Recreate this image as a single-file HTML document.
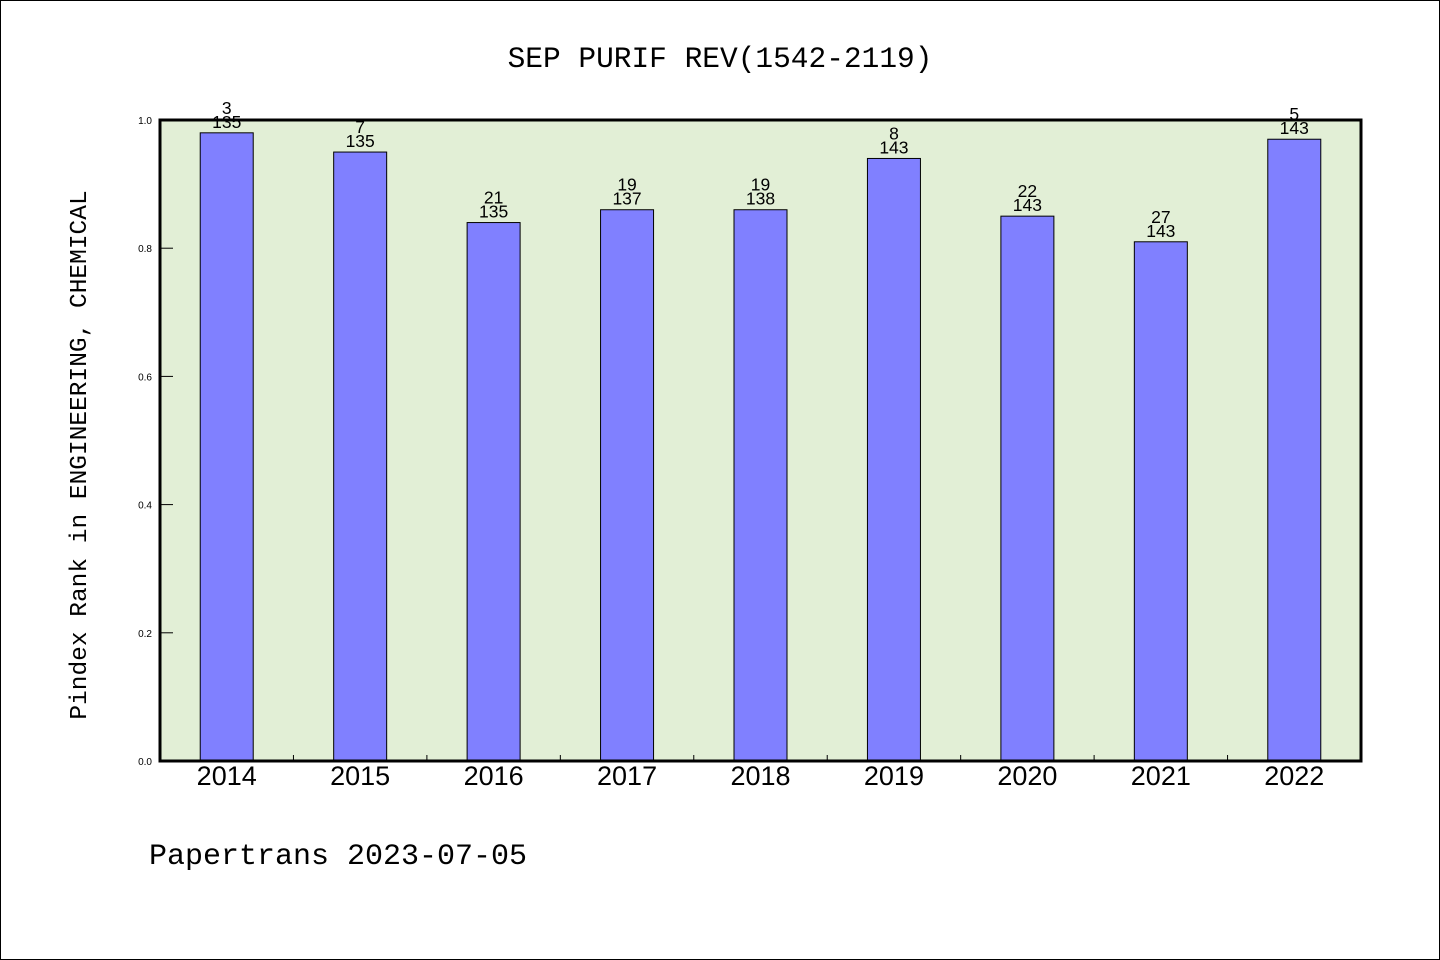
<!DOCTYPE html>
<html><head><meta charset="utf-8"><style>
body{margin:0;background:#fff}
svg{display:block}
text{font-family:"Liberation Sans","WenQuanYi Zen Hei",sans-serif;fill:#000}
.mono{font-family:"Liberation Mono","WenQuanYi Zen Hei",monospace}
</style></head><body>
<svg id="chart" width="1440" height="960" xmlns="http://www.w3.org/2000/svg">
<rect x="0.5" y="0.5" width="1439" height="959" fill="#fff" stroke="#000"/>
<text class="mono" x="720" y="67" font-size="29.5" text-anchor="middle">SEP PURIF REV(1542-2119)</text>
<rect x="160" y="120" width="1201" height="641" fill="#e2efd6"/>
<g id="bars"></g>
<g id="ticks"></g>
<rect x="160" y="120" width="1201" height="641" fill="none" stroke="#000" stroke-width="3"/>
<text class="mono" transform="translate(86,455) rotate(-90)" font-size="24.5" text-anchor="middle">Pindex Rank in ENGINEERING, CHEMICAL</text>
<text class="mono" x="149" y="864" font-size="30">Papertrans 2023-07-05</text>
</svg>
<script>
const categories=["2014","2015","2016","2017","2018","2019","2020","2021","2022"];
const values=[0.98,0.95,0.84,0.86,0.86,0.94,0.85,0.81,0.97];
const ranks=["3","7","21","19","19","8","22","27","5"];
const totals=["135","135","135","137","138","143","143","143","143"];
const yTicks=[0,0.2,0.4,0.6,0.8,1.0];
const yTickLabels=["0.0","0.2","0.4","0.6","0.8","1.0"];
const NS="http://www.w3.org/2000/svg";
const X0=160,W=1201,Y0=761,H=641;
const band=W/categories.length;
const xc=i=>X0+band*(i+0.5);
const y=v=>Y0-v*H;
function mk(tag,attrs,parent){const e=document.createElementNS(NS,tag);for(const k in attrs)e.setAttribute(k,attrs[k]);parent.appendChild(e);return e;}
const bars=document.getElementById('bars'),ticks=document.getElementById('ticks');
categories.forEach((c,i)=>{
  const r=mk('rect',{x:xc(i)-26.5,y:y(values[i]),width:53,height:Y0-y(values[i]),fill:'#8080ff',stroke:'#000','stroke-width':1},bars);
  
  
  const t1=mk('text',{x:xc(i),y:y(values[i])-19,'font-size':17.5,'text-anchor':'middle'},bars);t1.textContent=ranks[i];
  
  
  const t2=mk('text',{x:xc(i),y:y(values[i])-5,'font-size':17.5,'text-anchor':'middle'},bars);t2.textContent=totals[i];
  
  
  const xl=mk('text',{x:xc(i),y:785,'font-size':27,'text-anchor':'middle'},ticks);xl.textContent=c;
  
  
  if(i>0){const tk=mk('line',{x1:X0+band*i,x2:X0+band*i,y1:Y0,y2:Y0-6,stroke:'#000'},ticks);
  
  }
});
yTicks.forEach((v,i)=>{
  const l=mk('line',{x1:X0,x2:X0+13,y1:y(v),y2:y(v),stroke:'#000'},ticks);
  
  
  const t=mk('text',{x:152,y:y(v)+4,'font-size':10,'text-anchor':'end'},ticks);t.textContent=yTickLabels[i];
  
  
});
</script>
</body></html>
